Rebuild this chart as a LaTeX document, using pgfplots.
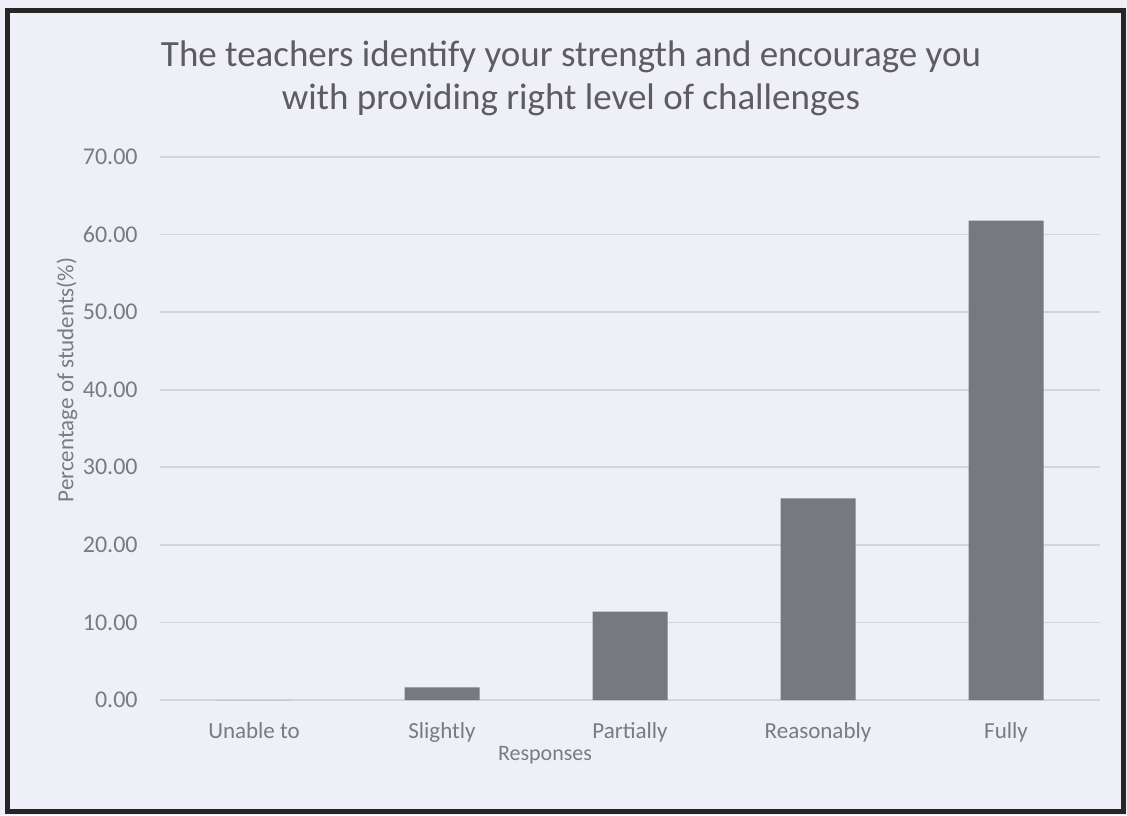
\documentclass[border=0pt]{standalone}
\usepackage{pgfplots}
\pgfplotsset{compat=1.18}
\usepackage{fontspec}
\setmainfont{Carlito}

\definecolor{bgc}{RGB}{239,239,247}
\definecolor{barc}{RGB}{120,121,128}
\definecolor{gridc}{RGB}{212,212,219}
\definecolor{txtc}{RGB}{122,122,130}
\definecolor{titc}{RGB}{92,92,98}

\begin{document}
\begin{tikzpicture}
% page and frame (1 px of the reference = 0.5pt)
\fill[bgc] (-80pt,-57.5pt) rectangle (483.5pt,350pt);
\draw[line width=2.5pt, black!85] (-76pt,-55.5pt) rectangle (481.5pt,344.5pt);

\begin{axis}[
  at={(0,0)}, anchor=south west,
  scale only axis,
  width=470pt, height=271.5pt,
  xmin=-0.5, xmax=4.5,
  ymin=0, ymax=70,
  ytick={0,10,...,70},
  xtick={0,1,2,3,4},
  xticklabels={Unable to,Slightly,Partially,Reasonably,Fully},
  major tick length=0pt,
  axis line style={draw=none},
  ymajorgrids,
  grid style={gridc, line width=0.8pt},
  ybar, bar width=37.5pt,
  /pgf/number format/assume math mode=true,
  yticklabel={\pgfmathprintnumber[fixed,fixed zerofill,precision=2]{\tick}},
  ticklabel style={text=txtc},
  yticklabel style={font=\fontsize{12}{14}\selectfont, inner sep=0pt, anchor=east, xshift=-11pt},
  xticklabel style={font=\fontsize{11.5}{13}\selectfont, inner sep=0pt, anchor=north, yshift=-11pt},
  clip=false,
]
\addplot[fill=barc, draw=none] coordinates {
  (0, 0)
  (1, 1.64)
  (2, 11.4)
  (3, 26.0)
  (4, 61.8)
};
\end{axis}

% titles and axis labels
\node[text=titc, font=\fontsize{18.5}{22}\selectfont] at (205.5pt,321.5pt) {The teachers identify your strength and encourage you};
\node[text=titc, font=\fontsize{18.5}{22}\selectfont] at (205.5pt,300pt) {with providing right level of challenges};
\node[text=txtc, font=\fontsize{11.5}{13}\selectfont, rotate=90] at (-46.5pt,160pt) {Percentage of students(\%)};
\node[text=txtc, font=\fontsize{11}{13}\selectfont] at (192.5pt,-27.5pt) {Responses};
\end{tikzpicture}
\end{document}
